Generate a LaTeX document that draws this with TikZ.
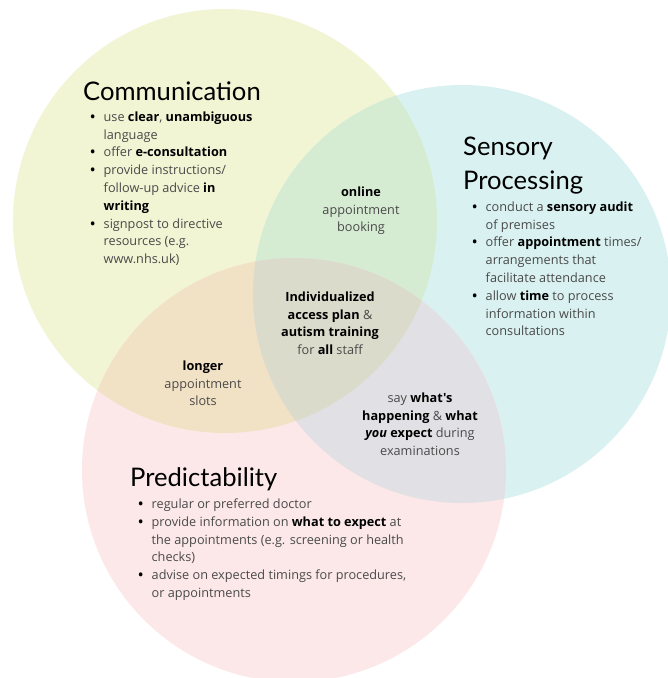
\documentclass[tikz,border=0pt]{standalone}
\usepackage{fontspec}
\setmainfont{Open Sans}[Ligatures=TeXOff]
\newfontfamily\headfont{Lato}
\definecolor{commfill}{HTML}{F1F5D3}
\definecolor{sensfill}{HTML}{D9F1F0}
\definecolor{predfill}{HTML}{FCE8E8}
\definecolor{commsens}{HTML}{D5ECD3}
\definecolor{commpred}{HTML}{F2E2C5}
\definecolor{senspred}{HTML}{E1E0E4}
\definecolor{allthree}{HTML}{DADBCB}
\definecolor{bodygray}{HTML}{4A4A4A}
\newcommand{\itm}{\makebox[13.3pt][l]{\textbf{\color{black}\textbullet}}}
\newcommand{\gap}{\hspace*{13.3pt}}
\newcommand{\kw}[1]{\textbf{\color{black}#1}}

\begin{document}
\begin{tikzpicture}[x=1pt,y=-1pt,
    heading/.style={font=\headfont\fontsize{25.6}{34}\selectfont, text=black,
        inner sep=0pt, anchor=base west, align=left},
    body/.style={font=\fontsize{12.7}{17.8}\selectfont, text=bodygray,
        inner sep=0pt},
    list/.style={body, anchor=north west, align=left},
    overlap/.style={body, anchor=north, align=center}]
    \useasboundingbox (0,0) rectangle (668,678);
    \fill[white] (0,0) rectangle (668,678);

    % the three sets
    \coordinate (comm) at (225,221);
    \coordinate (sens) at (462,294);
    \coordinate (pred) at (294,470);
    \fill[commfill] (comm) circle (212pt);
    \fill[sensfill] (sens) circle (209pt);
    \fill[predfill] (pred) circle (212pt);
    \begin{scope}
        \clip (comm) circle (212pt);
        \fill[commsens] (sens) circle (209pt);
        \fill[commpred] (pred) circle (212pt);
    \end{scope}
    \begin{scope}
        \clip (sens) circle (209pt);
        \fill[senspred] (pred) circle (212pt);
        \clip (pred) circle (212pt);
        \fill[allthree] (comm) circle (212pt);
    \end{scope}

    % headings
    \node[heading] (comm-title) at (83,100) {Communication};
    \node[heading] (sens-title) at (463,189) {Sensory\\Processing};
    \node[heading] (pred-title) at (130,486) {Predictability};

    % bullet lists
    \node[list] (comm-list) at (90.2,111.5) {%
        \itm use \kw{clear}, \kw{unambiguous}\\
        \gap language\\
        \itm offer \kw{e-consultation}\\
        \itm provide instructions/\\
        \gap follow-up advice \kw{in}\\
        \gap \kw{writing}\\
        \itm signpost to directive\\
        \gap resources (e.g.\\
        \gap www.nhs.uk)};
    \node[list] (sens-list) at (472.2,201.5) {%
        \itm conduct a \kw{sensory audit}\\
        \gap of premises\\
        \itm offer \kw{appointment} times/\\
        \gap arrangements that\\
        \gap facilitate attendance\\
        \itm allow \kw{time} to process\\
        \gap information within\\
        \gap consultations};
    \node[list] (pred-list) at (138.2,498.5) {%
        \itm regular or preferred doctor\\
        \itm provide information on \kw{what to expect} at\\
        \gap the appointments (e.g. screening or health\\
        \gap checks)\\
        \itm advise on expected timings for procedures,\\
        \gap or appointments};

    % overlaps
    \node[overlap] (online) at (361,186.5) {\kw{online}\\appointment\\booking};
    \node[overlap] (core) at (330,291.5)
        {\kw{Individualized}\\\kw{access plan} \&\\\kw{autism training}\\for \kw{all} staff};
    \node[overlap] (longer) at (203,360.5) {\kw{longer}\\appointment\\slots};
    \node[overlap] (exam) at (420,392.5)
        {say \kw{what's}\\\kw{happening} \& \kw{what}\\\kw{\textit{you} expect} during\\examinations};
\end{tikzpicture}
\end{document}
